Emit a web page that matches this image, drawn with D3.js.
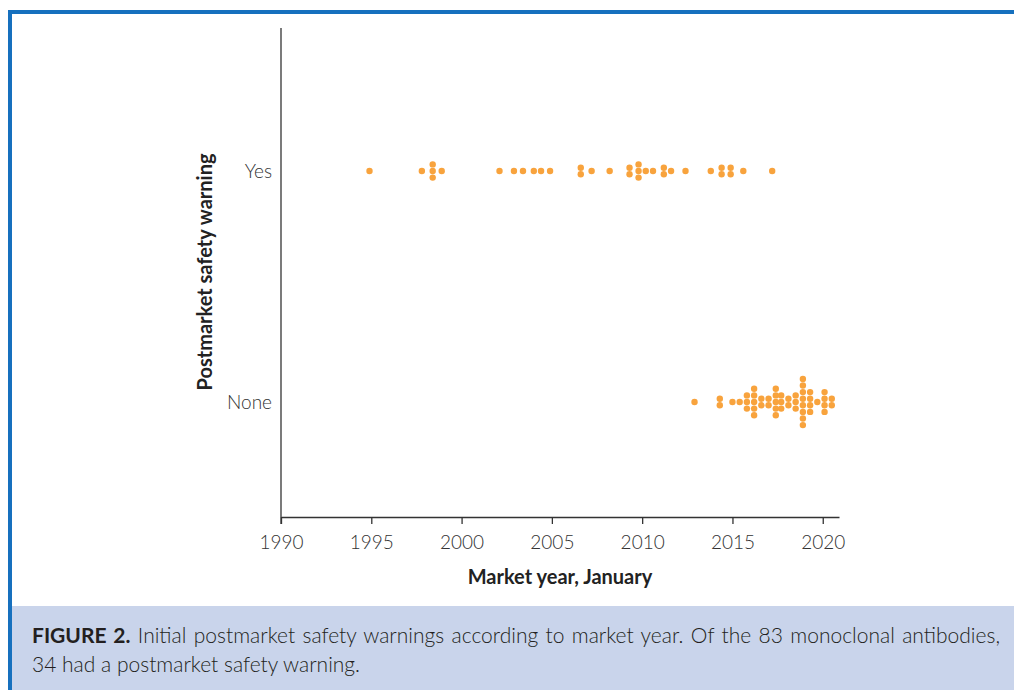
<!DOCTYPE html>
<html>
<head>
<meta charset="utf-8">
<script src="https://cdn.jsdelivr.net/npm/d3@7"></script>
<style>
  body {margin: 0; background: #fff;}
  svg text {font-family: Lato, 'Open Sans', sans-serif;}
</style>
</head>
<body>
<div id="chart"></div>
<script>
// market year (January) of each monoclonal antibody, one entry per dot
var warnings = ['Yes', 'None']
var yesYears = [1994.9, 1997.8, 1998.4, 1998.4, 1998.4, 1998.9, 2002.1, 2002.9, 2003.4, 2004.0,
  2004.4, 2004.9, 2006.6, 2006.6, 2007.2, 2008.2, 2009.3, 2009.3, 2009.8, 2009.8, 2009.8,
  2010.2, 2010.6, 2011.2, 2011.2, 2011.6, 2012.4, 2013.8, 2014.4, 2014.4, 2014.9, 2014.9,
  2015.6, 2017.2]
var noneYears = [2012.9, 2014.3, 2014.3, 2015.0, 2015.4, 2015.8, 2015.8, 2015.8,
  2016.2, 2016.2, 2016.2, 2016.2, 2016.2, 2016.6, 2016.6, 2017.0, 2017.0,
  2017.4, 2017.4, 2017.4, 2017.4, 2017.4, 2017.7, 2017.7, 2017.7, 2018.1, 2018.1,
  2018.5, 2018.5, 2018.5, 2018.9, 2018.9, 2018.9, 2018.9, 2018.9, 2018.9, 2018.9, 2018.9,
  2019.3, 2019.3, 2019.3, 2019.3, 2019.7, 2020.1, 2020.1, 2020.1, 2020.1, 2020.5, 2020.5]
var xTicks = [1990, 1995, 2000, 2005, 2010, 2015, 2020]
var xTitle = 'Market year, January'
var yTitle = 'Postmarket safety warning'
var captionLabel = 'FIGURE 2.'
var captionLines = [
  ' Initial postmarket safety warnings according to market year. Of the 83 monoclonal antibodies,',
  '34 had a postmarket safety warning.'
]

var width = 1014
var height = 690
var margin = {top: 28, right: 175, bottom: 173, left: 281}
var capTop = 606
var ink = '#333'

var svg = d3.select('#chart').append('svg')
  .attr('width', width)
  .attr('height', height)

// caption panel and blue frame
svg.append('rect')
  .attr('x', 12).attr('y', capTop)
  .attr('width', width - 12).attr('height', height - capTop)
  .attr('fill', '#c9d4eb')

svg.append('path')
  .attr('d', `M10,${height} V12 H${width}`)
  .attr('fill', 'none')
  .attr('stroke', '#1670be')
  .attr('stroke-width', 4)

var x = d3.scaleLinear()
  .domain([1990, 2020.9])
  .range([margin.left, width - margin.right])

var y = d3.scalePoint()
  .domain(warnings)
  .range([margin.top + 143, height - margin.bottom - 115])

// stack dots that share a year, centred on the row
var r = 3.2
var gap = 6.6
var dots = []
;[['Yes', yesYears], ['None', noneYears]].forEach(([cat, years]) => {
  d3.group(years, d => d).forEach((grp, yr) => {
    grp.forEach((v, i) => dots.push({cat, year: yr, off: (i - (grp.length - 1)/2)*gap}))
  })
})

svg.append('g').selectAll('circle')
  .data(dots)
  .join('circle')
  .attr('cx', d => x(d.year))
  .attr('cy', d => y(d.cat) + d.off)
  .attr('r', r)
  .attr('fill', '#f8a33d')

// x axis
var xAxis = svg.append('g')
  .attr('transform', `translate(0,${height - margin.bottom})`)
  .call(d3.axisBottom(x)
    .tickValues(xTicks)
    .tickFormat(d3.format('d'))
    .tickSize(7)
    .tickPadding(12)
    .tickSizeOuter(0))
  .attr('font-family', null)
  .attr('font-size', null)

xAxis.selectAll('.domain, .tick line')
  .attr('stroke', ink)
  .attr('stroke-width', 1.3)

xAxis.selectAll('.tick text')
  .attr('font-size', 19)
  .attr('font-weight', 300)
  .attr('fill', ink)

// y axis
svg.append('line')
  .attr('x1', margin.left).attr('x2', margin.left)
  .attr('y1', margin.top).attr('y2', height - margin.bottom + 7)
  .attr('stroke', ink)
  .attr('stroke-width', 1.3)

var yAxis = svg.append('g')
  .attr('transform', `translate(${margin.left},0)`)
  .call(d3.axisLeft(y).tickSize(0).tickPadding(9))
  .attr('font-family', null)
  .attr('font-size', null)

yAxis.select('.domain').remove()
yAxis.selectAll('.tick text')
  .attr('font-size', 19)
  .attr('font-weight', 300)
  .attr('fill', ink)

// axis titles
svg.append('text')
  .attr('x', 560).attr('y', 584)
  .attr('text-anchor', 'middle')
  .attr('font-size', 20)
  .attr('font-weight', 700)
  .attr('fill', '#222')
  .text(xTitle)

svg.append('text')
  .attr('transform', 'translate(212,272) rotate(-90)')
  .attr('text-anchor', 'middle')
  .attr('font-size', 20)
  .attr('font-weight', 700)
  .attr('fill', '#222')
  .text(yTitle)

// caption, first line justified to the panel width
var cap = svg.append('g')
  .attr('font-size', 21)
  .attr('fill', '#231f20')

var line1 = cap.append('text').attr('x', 32).attr('y', 643)
line1.append('tspan').attr('font-weight', 700).text(captionLabel)
line1.append('tspan').attr('font-weight', 300).text(captionLines[0])

var spaces = (captionLabel + captionLines[0]).split(' ').length - 1
var natural = line1.node().getComputedTextLength()
line1.attr('word-spacing', Math.max(0, (1000 - 32 - natural)/spaces))

cap.append('text')
  .attr('x', 32).attr('y', 672)
  .attr('font-weight', 300)
  .text(captionLines[1])
</script>
</body>
</html>
